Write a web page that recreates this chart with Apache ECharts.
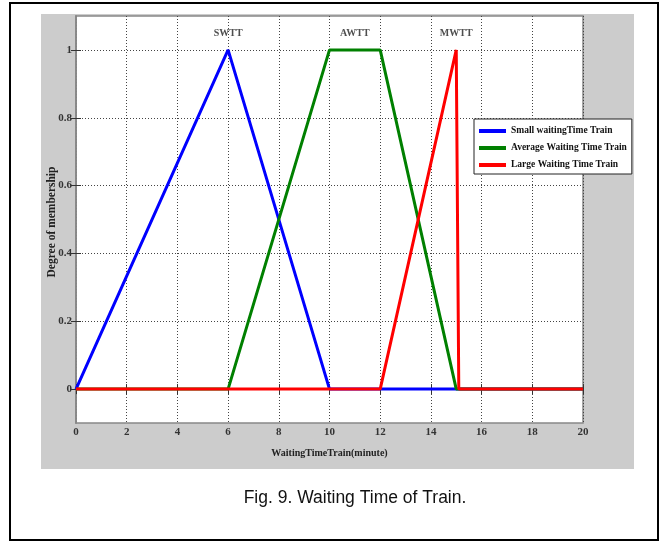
<!DOCTYPE html>
<html>
<head>
<meta charset="utf-8">
<script src="https://cdn.jsdelivr.net/npm/echarts@6/dist/echarts.min.js"></script>
<style>html,body{margin:0;padding:0;background:#fff}#c{width:663px;height:541px}</style>
</head>
<body>
<div id="c"></div>
<script>
// ---- data ----
const seriesNames = ['Small waitingTime Train', 'Average Waiting Time Train', 'Large Waiting Time Train'];
const smallMF = [[0, 0], [6, 1], [10, 0], [20, 0]];
const averageMF = [[0, 0], [6, 0], [10, 1], [12, 1], [15, 0], [20, 0]];
const largeMF = [[0, 0], [12, 0], [15, 1], [15.1, 0], [20, 0]];
const mfLabels = [[6, 1.05, 'SWTT'], [11, 1.05, 'AWTT'], [15, 1.05, 'MWTT']];
const yTicks = [0, 0.2, 0.4, 0.6, 0.8, 1];
const xTicks = [0, 2, 4, 6, 8, 10, 12, 14, 16, 18, 20];

const chart = echarts.init(document.getElementById('c'), null, {renderer: 'canvas'});
const tickFont = {fontFamily: 'Liberation Serif', fontWeight: 'bold', fontSize: 11, color: '#333'};
const dotted = {color: '#444', type: [1, 2], width: 1};

chart.setOption({
  backgroundColor: '#fff',
  animation: false,
  graphic: [
    {type: 'rect', z: -100, shape: {x: 41, y: 14, width: 593, height: 455}, style: {fill: '#cccccc'}},
    {type: 'rect', z: 100, shape: {x: 10, y: 3, width: 648, height: 537}, style: {fill: 'none', stroke: '#000', lineWidth: 2}},
    {type: 'text', z: 100, x: 52, y: 222, rotation: Math.PI / 2,
      style: {text: 'Degree of membership', fontFamily: 'Liberation Serif', fontWeight: 'bold', fontSize: 11.5, fill: '#222', align: 'center', verticalAlign: 'middle'}},
    {type: 'text', z: 100, x: 355, y: 498,
      style: {text: 'Fig. 9. Waiting Time of Train.', fontFamily: 'Liberation Sans', fontSize: 17.5, fill: '#111', align: 'center', verticalAlign: 'middle'}}
  ],
  grid: {left: 76, top: 16, right: 80, bottom: 118, show: true, backgroundColor: '#fff', borderColor: '#888', borderWidth: 1.5, containLabel: false},
  legend: {
    data: seriesNames,
    orient: 'vertical', left: 474, top: 119,
    backgroundColor: '#fff', borderColor: '#222', borderWidth: 1,
    padding: [7, 5, 4, 5], itemGap: 7, itemWidth: 27, itemHeight: 4, icon: 'rect',
    textStyle: {fontFamily: 'Liberation Serif', fontWeight: 'bold', fontSize: 9.5, color: '#111'}
  },
  xAxis: [{
    type: 'value', min: 0, max: 20, interval: 2,
    name: 'WaitingTimeTrain(minute)', nameLocation: 'middle', nameGap: 25,
    nameTextStyle: {fontFamily: 'Liberation Serif', fontWeight: 'bold', fontSize: 10, color: '#222'},
    axisLine: {show: true, lineStyle: {color: '#888', width: 1.5}},
    axisTick: {show: true, inside: true, length: 5, lineStyle: {color: '#333'}},
    axisLabel: Object.assign({margin: 4, customValues: xTicks}, tickFont),
    splitLine: {show: true, lineStyle: dotted}
  }, {
    type: 'value', min: 0, max: 20, interval: 2, position: 'top',
    axisLine: {show: true, lineStyle: {color: '#888', width: 1.5}},
    axisTick: {show: true, inside: true, length: 5, lineStyle: {color: '#333'}},
    axisLabel: {show: false}, splitLine: {show: false}
  }],
  yAxis: [{
    type: 'value', min: -0.1, max: 1.1,
    axisLine: {show: true, lineStyle: {color: '#888', width: 1.5}},
    axisTick: {show: true, inside: true, length: 5, customValues: yTicks, lineStyle: {color: '#333'}},
    axisLabel: Object.assign({margin: 4, customValues: yTicks}, tickFont),
    splitLine: {show: true, lineStyle: dotted}
  }, {
    type: 'value', min: -0.1, max: 1.1, position: 'right',
    axisLine: {show: true, lineStyle: {color: '#888', width: 1.5}},
    axisTick: {show: true, inside: true, length: 5, customValues: yTicks, lineStyle: {color: '#333'}},
    axisLabel: {show: false}, splitLine: {show: false}
  }],
  series: [
    {name: seriesNames[0], type: 'line', data: smallMF, showSymbol: false, color: '#0000ff', lineStyle: {width: 3, color: '#0000ff'}},
    {name: seriesNames[1], type: 'line', data: averageMF, showSymbol: false, color: '#008000', lineStyle: {width: 3, color: '#008000'}},
    {name: seriesNames[2], type: 'line', data: largeMF, showSymbol: false, color: '#ff0000', lineStyle: {width: 3, color: '#ff0000'}},
    {name: 'labels', type: 'scatter', data: mfLabels, symbolSize: 0, silent: true,
      label: {show: true, position: 'inside', formatter: p => p.data[2], fontFamily: 'Liberation Serif', fontWeight: 'bold', fontSize: 10, color: '#222'}}
  ]
});
</script>
</body>
</html>
